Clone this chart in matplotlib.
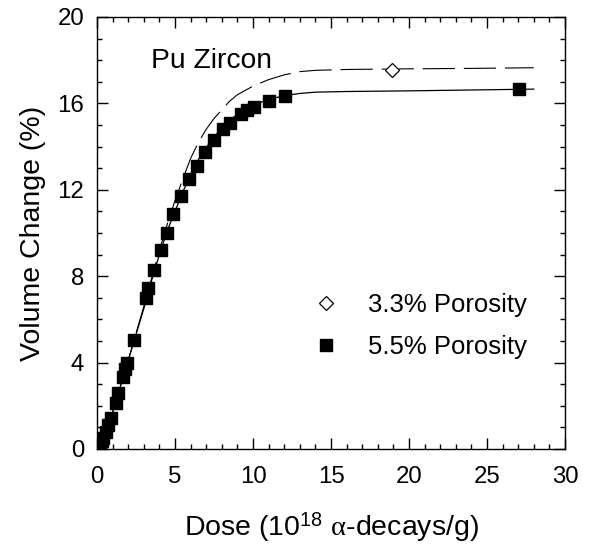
import numpy as np
import matplotlib
matplotlib.use("Agg")
import matplotlib.pyplot as plt
from matplotlib.ticker import MultipleLocator

plt.rcParams['font.family'] = ['Liberation Sans', 'DejaVu Sans']
plt.rcParams['mathtext.fontset'] = 'custom'
plt.rcParams['mathtext.rm'] = 'Liberation Sans'
plt.rcParams['mathtext.it'] = 'Liberation Serif'

# measured points, 5.5% porosity
dose_55 = [0.0, 0.1, 0.19, 0.3, 0.4, 0.55, 0.72, 0.87, 1.22, 1.37, 1.69, 1.8, 1.94,
           2.35, 3.12, 3.29, 3.63, 4.1, 4.47, 4.9, 5.36, 5.9, 6.4, 6.9, 7.5, 8.05,
           8.5, 9.2, 9.6, 10.05, 11.05, 12.05, 27.05]
vol_55 = [0.03, 0.12, 0.26, 0.38, 0.5, 0.8, 1.1, 1.42, 2.14, 2.58, 3.35, 3.7, 4.0,
          5.05, 7.0, 7.47, 8.29, 9.2, 10.0, 10.9, 11.7, 12.5, 13.1, 13.75, 14.3, 14.8,
          15.1, 15.5, 15.7, 15.85, 16.1, 16.34, 16.67]

# measured point, 3.3% porosity
dose_33 = [18.9]
vol_33 = [17.55]

# fitted curves
fit_dose = [0, 0.5, 1, 1.5, 2, 2.5, 3, 3.5, 4, 4.5, 5, 5.5, 6, 6.5, 7, 7.5, 8, 8.5,
            9, 9.5, 10, 11, 12, 13, 14, 16, 20, 24, 28]
fit_55 = [0, 0.6, 1.7, 2.9, 4.1, 5.3, 6.5, 7.8, 9.0, 10.1, 11.0, 11.9, 12.7, 13.4,
          13.95, 14.45, 14.85, 15.2, 15.5, 15.72, 15.92, 16.18, 16.36, 16.46, 16.52,
          16.55, 16.58, 16.62, 16.66]
fit_33 = [0, 0.6, 1.7, 2.9, 4.1, 5.35, 6.6, 7.9, 9.2, 10.4, 11.5, 12.5, 13.45, 14.2,
          14.8, 15.3, 15.7, 16.1, 16.4, 16.6, 16.8, 17.1, 17.32, 17.47, 17.53, 17.57,
          17.6, 17.62, 17.65]

fig = plt.figure(figsize=(5.89, 5.46), dpi=100)
ax = fig.add_axes([0.1647, 0.1777, 0.7946, 0.7912])

ax.plot(fit_dose, fit_55, color='black', lw=0.9)
ax.plot(fit_dose, fit_33, color='black', lw=0.8, dashes=(29, 8))
ax.plot(dose_33, vol_33, linestyle='none', marker='D', ms=7.5, mfc='white',
        mec='black', mew=0.9, label='3.3% Porosity')
ax.plot(dose_55, vol_55, linestyle='none', marker='s', ms=8.2, color='black',
        label='5.5% Porosity')

ax.set_xlim(0, 30)
ax.set_ylim(0, 20)
ax.xaxis.set_major_locator(MultipleLocator(5))
ax.xaxis.set_minor_locator(MultipleLocator(1))
ax.yaxis.set_major_locator(MultipleLocator(4))
ax.yaxis.set_minor_locator(MultipleLocator(1))
ax.tick_params(which='both', direction='in', top=True, right=True, width=1,
               labelsize=17.3)
ax.tick_params(which='major', length=7.7)
ax.tick_params(which='minor', length=3.6)
ax.tick_params(axis='x', pad=12.5)
ax.tick_params(axis='y', pad=9.3)
for s in ax.spines.values():
    s.set_linewidth(1)

ax.set_xlabel(r'Dose (10$^{18}$ $\alpha$-decays/g)', fontsize=20.5, labelpad=15.5)
ax.set_ylabel('Volume Change (%)', fontsize=20.5, labelpad=8)

ax.text(3.45, 17.64, 'Pu Zircon', fontsize=20.3, va='baseline', ha='left')

ax.legend(loc='upper right', bbox_to_anchor=(0.919, 0.36), frameon=False,
          fontsize=18.5, handlelength=1.0, handletextpad=1.15, labelspacing=0.68,
          borderpad=0, borderaxespad=0)

fig.savefig('out.png', dpi=100)
